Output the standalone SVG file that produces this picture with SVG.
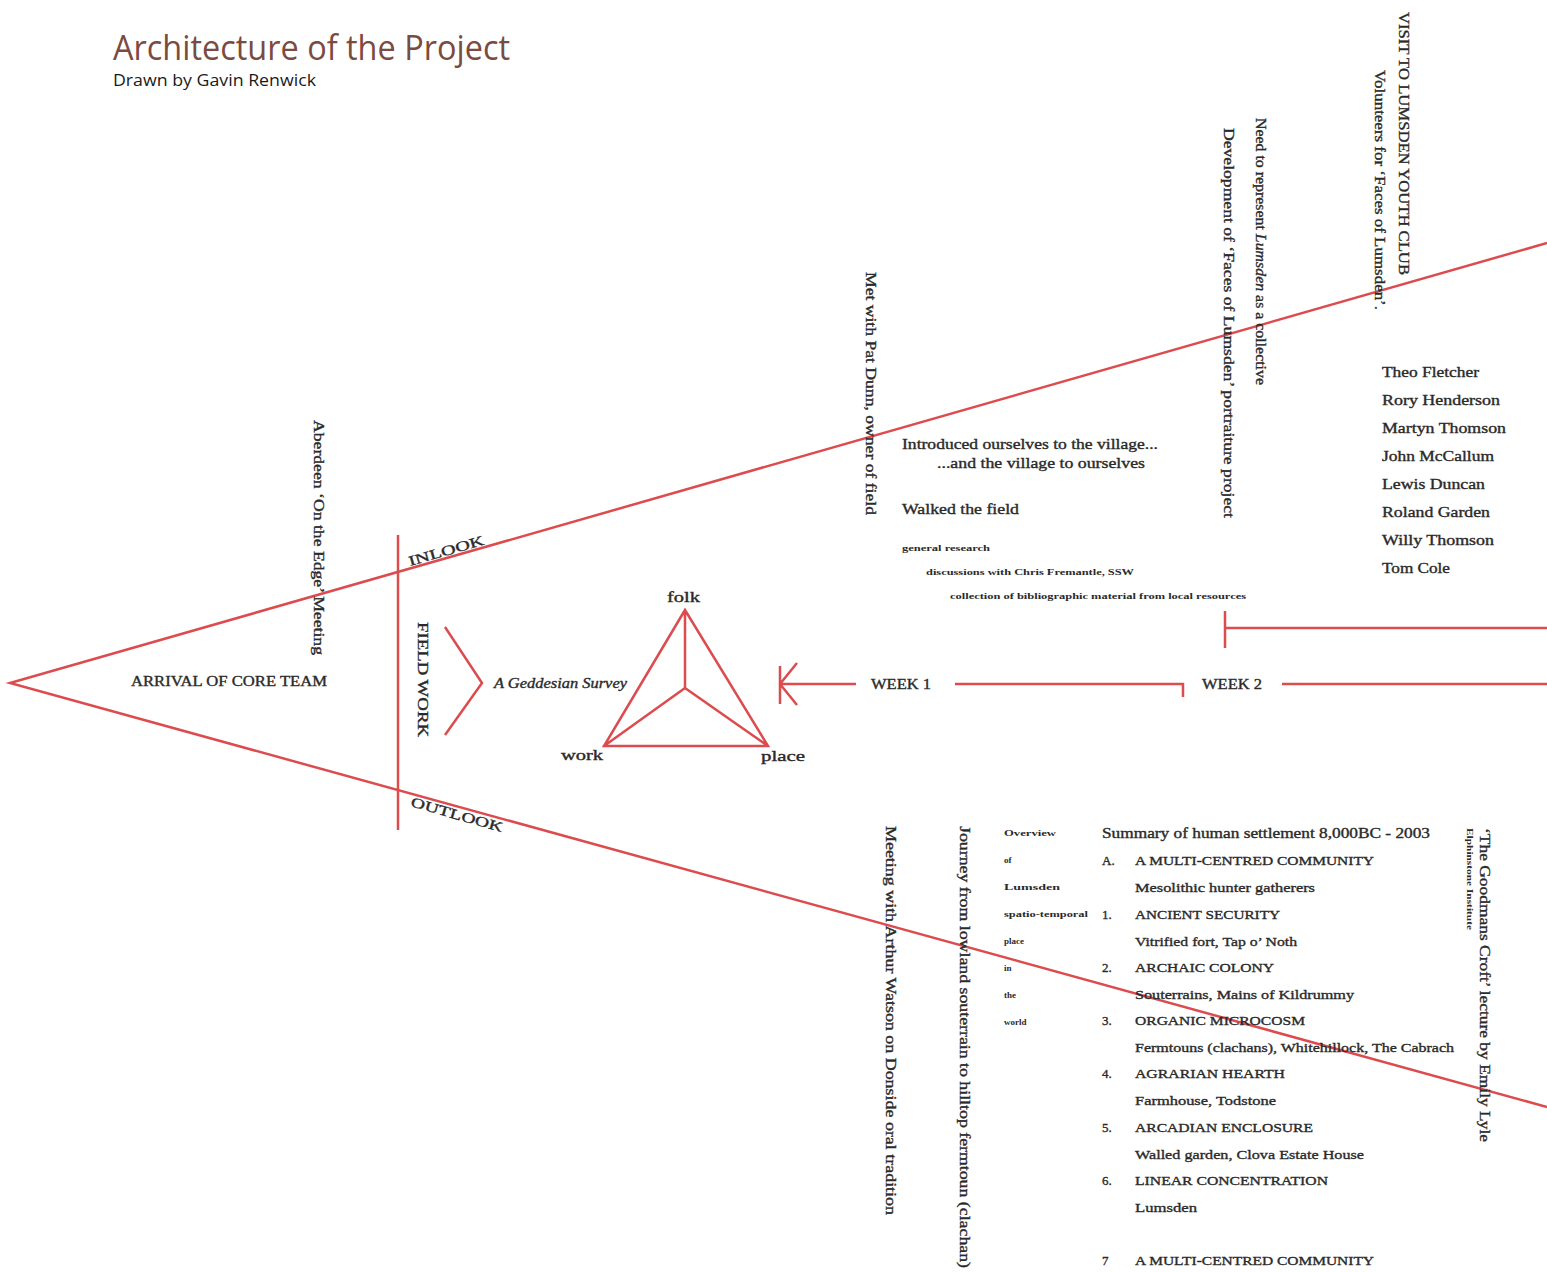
<svg xmlns="http://www.w3.org/2000/svg" width="1547" height="1272" viewBox="0 0 1547 1272">
<style>
.ln{stroke:#dc4b4e;stroke-width:2.5;fill:none;stroke-linecap:butt;stroke-linejoin:miter}
.t{font-family:"Liberation Serif","DejaVu Serif",serif;fill:#2a2a2a;font-size:14px;stroke:#2a2a2a;stroke-width:0.35}
.s{font-size:9px;font-weight:bold;stroke-width:0}
.cap{font-size:13px}
.it{font-style:italic}
</style>
<rect width="1547" height="1272" fill="#ffffff"/>
<g id="title">
<text x="113" y="60" font-family="'Open Sans','Lato',sans-serif" font-size="34" fill="#7b4a40" textLength="397" lengthAdjust="spacingAndGlyphs">Architecture of the Project</text>
<text x="113" y="86" font-family="'Open Sans','Lato',sans-serif" font-size="16" fill="#1a1a1a" textLength="203" lengthAdjust="spacingAndGlyphs">Drawn by Gavin Renwick</text>
</g>
<g id="connectors">
<path class="ln" d="M1547,243 L10,683 L1547,1107"/>
<path class="ln" d="M398,535 V830"/>
<path class="ln" d="M445,627 L482,683 L445,735"/>
<path class="ln" d="M685,610 L604,746 L768,746 Z M685,610 V688 M604,746 L685,688 L768,746"/>
<path class="ln" d="M797,663 L780,684 L797,705 M780,666 V704 M780,684 H856"/>
<path class="ln" d="M955,684 H1183 V697"/>
<path class="ln" d="M1282,684 H1547"/>
<path class="ln" d="M1225,611 V648 M1225,628 H1547"/>
</g>
<g id="arrival"><text class="t" x="131" y="686" textLength="196" lengthAdjust="spacingAndGlyphs">ARRIVAL OF CORE TEAM</text></g>
<g id="aberdeen"><text class="t" transform="translate(314,420) rotate(90)" textLength="235" lengthAdjust="spacingAndGlyphs">Aberdeen ‘On the Edge’ Meeting</text></g>
<g id="inlook"><text class="t" font-size="15" transform="translate(410,566) rotate(-16)" textLength="78" lengthAdjust="spacingAndGlyphs">INLOOK</text></g>
<g id="outlook"><text class="t" font-size="15" transform="translate(410,806) rotate(16)" textLength="95" lengthAdjust="spacingAndGlyphs">OUTLOOK</text></g>
<g id="fieldwork"><text class="t" font-size="15" transform="translate(418,622) rotate(90)" textLength="115" lengthAdjust="spacingAndGlyphs">FIELD WORK</text></g>
<g id="geddesian"><text class="t it" x="494" y="688" textLength="133" lengthAdjust="spacingAndGlyphs">A Geddesian Survey</text></g>
<g id="triangle">
<text class="t" font-size="15" x="667" y="602" textLength="33" lengthAdjust="spacingAndGlyphs">folk</text>
<text class="t" font-size="15" x="561" y="760" textLength="42" lengthAdjust="spacingAndGlyphs">work</text>
<text class="t" font-size="15" x="761" y="761" textLength="44" lengthAdjust="spacingAndGlyphs">place</text>
</g>
<g id="week1"><text class="t" x="871" y="689" textLength="60" lengthAdjust="spacingAndGlyphs">WEEK 1</text></g>
<g id="week2"><text class="t" x="1202" y="689" textLength="60" lengthAdjust="spacingAndGlyphs">WEEK 2</text></g>
<g id="patdunn"><text class="t" transform="translate(866,272) rotate(90)" textLength="243" lengthAdjust="spacingAndGlyphs">Met with Pat Dunn, owner of field</text></g>
<g id="village">
<text class="t" x="902" y="449" textLength="256" lengthAdjust="spacingAndGlyphs">Introduced ourselves to the village...</text>
<text class="t" x="937" y="468" textLength="208" lengthAdjust="spacingAndGlyphs">...and the village to ourselves</text>
<text class="t" x="902" y="514" textLength="117" lengthAdjust="spacingAndGlyphs">Walked the field</text>
<text class="t s" x="902" y="551" textLength="88" lengthAdjust="spacingAndGlyphs">general research</text>
<text class="t s" x="926" y="575" textLength="208" lengthAdjust="spacingAndGlyphs">discussions with Chris Fremantle, SSW</text>
<text class="t s" x="950" y="599" textLength="296" lengthAdjust="spacingAndGlyphs">collection of bibliographic material from local resources</text>
</g>
<g id="faces">
<text class="t" transform="translate(1224,128) rotate(90)" textLength="390" lengthAdjust="spacingAndGlyphs">Development of ‘Faces of Lumsden’ portraiture project</text>
<text class="t" font-size="13" transform="translate(1256,118) rotate(90)" textLength="267" lengthAdjust="spacingAndGlyphs">Need to represent <tspan class="it">Lumsden</tspan> as a collective</text>
</g>
<g id="youthclub">
<text class="t" transform="translate(1399,12) rotate(90)" textLength="263" lengthAdjust="spacingAndGlyphs">VISIT TO LUMSDEN YOUTH CLUB</text>
<text class="t" font-size="13" transform="translate(1375,70) rotate(90)" textLength="240" lengthAdjust="spacingAndGlyphs">Volunteers for ‘Faces of Lumsden’.</text>
</g>
<g id="names">
<text class="t" font-size="15" x="1382" y="377" textLength="97" lengthAdjust="spacingAndGlyphs">Theo Fletcher</text>
<text class="t" font-size="15" x="1382" y="405" textLength="118" lengthAdjust="spacingAndGlyphs">Rory Henderson</text>
<text class="t" font-size="15" x="1382" y="433" textLength="124" lengthAdjust="spacingAndGlyphs">Martyn Thomson</text>
<text class="t" font-size="15" x="1382" y="461" textLength="112" lengthAdjust="spacingAndGlyphs">John McCallum</text>
<text class="t" font-size="15" x="1382" y="489" textLength="103" lengthAdjust="spacingAndGlyphs">Lewis Duncan</text>
<text class="t" font-size="15" x="1382" y="517" textLength="108" lengthAdjust="spacingAndGlyphs">Roland Garden</text>
<text class="t" font-size="15" x="1382" y="545" textLength="112" lengthAdjust="spacingAndGlyphs">Willy Thomson</text>
<text class="t" font-size="15" x="1382" y="573" textLength="68" lengthAdjust="spacingAndGlyphs">Tom Cole</text>
</g>
<g id="watson"><text class="t" transform="translate(886,826) rotate(90)" textLength="389" lengthAdjust="spacingAndGlyphs">Meeting with Arthur Watson on Donside oral tradition</text></g>
<g id="journey"><text class="t" transform="translate(960,826) rotate(90)" textLength="442" lengthAdjust="spacingAndGlyphs">Journey from lowland souterrain to hilltop fermtoun (clachan)</text></g>
<g id="lecture">
<text class="t" transform="translate(1480,828) rotate(90)" textLength="314" lengthAdjust="spacingAndGlyphs">‘The Goodmans Croft’ lecture by Emily Lyle</text>
<text class="t s" font-size="8" transform="translate(1467,828) rotate(90)" textLength="102" lengthAdjust="spacingAndGlyphs">Elphinstone Institute</text>
</g>
<g id="overview">
<text class="t s" x="1004" y="836" textLength="52" lengthAdjust="spacingAndGlyphs">Overview</text>
<text class="t s" x="1004" y="863">of</text>
<text class="t s" x="1004" y="890" textLength="56" lengthAdjust="spacingAndGlyphs">Lumsden</text>
<text class="t s" x="1004" y="917" textLength="84" lengthAdjust="spacingAndGlyphs">spatio-temporal</text>
<text class="t s" x="1004" y="944">place</text>
<text class="t s" x="1004" y="971">in</text>
<text class="t s" x="1004" y="998">the</text>
<text class="t s" x="1004" y="1025">world</text>
</g>
<g id="summary">
<text class="t" x="1102" y="838" textLength="328" lengthAdjust="spacingAndGlyphs">Summary of human settlement 8,000BC - 2003</text>
<text class="t cap" x="1102" y="865">A.</text>
<text class="t cap" x="1135" y="865" textLength="239" lengthAdjust="spacingAndGlyphs">A MULTI-CENTRED COMMUNITY</text>
<text class="t cap" x="1135" y="892" textLength="180" lengthAdjust="spacingAndGlyphs">Mesolithic hunter gatherers</text>
<text class="t cap" x="1102" y="919">1.</text>
<text class="t cap" x="1135" y="919" textLength="145" lengthAdjust="spacingAndGlyphs">ANCIENT SECURITY</text>
<text class="t cap" x="1135" y="946" textLength="162" lengthAdjust="spacingAndGlyphs">Vitrified fort, Tap o’ Noth</text>
<text class="t cap" x="1102" y="972">2.</text>
<text class="t cap" x="1135" y="972" textLength="139" lengthAdjust="spacingAndGlyphs">ARCHAIC COLONY</text>
<text class="t cap" x="1135" y="999" textLength="219" lengthAdjust="spacingAndGlyphs">Souterrains, Mains of Kildrummy</text>
<text class="t cap" x="1102" y="1025">3.</text>
<text class="t cap" x="1135" y="1025" textLength="170" lengthAdjust="spacingAndGlyphs">ORGANIC MICROCOSM</text>
<text class="t cap" x="1135" y="1052" textLength="319" lengthAdjust="spacingAndGlyphs">Fermtouns (clachans), Whitehillock, The Cabrach</text>
<text class="t cap" x="1102" y="1078">4.</text>
<text class="t cap" x="1135" y="1078" textLength="150" lengthAdjust="spacingAndGlyphs">AGRARIAN HEARTH</text>
<text class="t cap" x="1135" y="1105" textLength="141" lengthAdjust="spacingAndGlyphs">Farmhouse, Todstone</text>
<text class="t cap" x="1102" y="1132">5.</text>
<text class="t cap" x="1135" y="1132" textLength="178" lengthAdjust="spacingAndGlyphs">ARCADIAN ENCLOSURE</text>
<text class="t cap" x="1135" y="1159" textLength="229" lengthAdjust="spacingAndGlyphs">Walled garden, Clova Estate House</text>
<text class="t cap" x="1102" y="1185">6.</text>
<text class="t cap" x="1135" y="1185" textLength="193" lengthAdjust="spacingAndGlyphs">LINEAR CONCENTRATION</text>
<text class="t cap" x="1135" y="1212" textLength="62" lengthAdjust="spacingAndGlyphs">Lumsden</text>
<text class="t cap" x="1102" y="1265">7</text>
<text class="t cap" x="1135" y="1265" textLength="239" lengthAdjust="spacingAndGlyphs">A MULTI-CENTRED COMMUNITY</text>
</g>
</svg>
